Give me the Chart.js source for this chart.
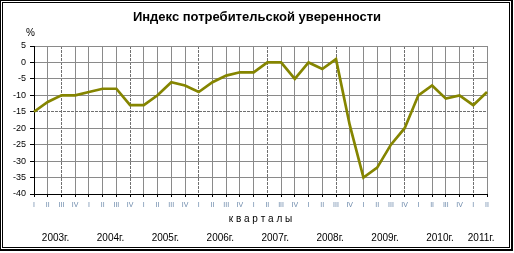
<!DOCTYPE html>
<html>
<head>
<meta charset="utf-8">
<script src="https://cdn.jsdelivr.net/npm/chart.js"></script>
<style>
    html, body { margin: 0; padding: 0; background: #fff; }
    #wrap { width: 514px; height: 253px; }
</style>
</head>
<body>
<div id="wrap"><canvas id="confidence-chart" width="514" height="253"></canvas></div>
<script>
const title = 'Индекс потребительской уверенности';
const unitLabel = '%';
const axisTitle = 'к в а р т а л ы';
const years = ['2003г.', '2004г.', '2005г.', '2006г.', '2007г.', '2008г.', '2009г.', '2010г.', '2011г.'];
const quarterNames = ['I', 'II', 'III', 'IV'];
// 2003 I ... 2011 II
const values = [
    -15, -12, -10, -10,
    -9, -8, -8, -13,
    -13, -10, -6, -7,
    -9, -6, -4, -3,
    -3, 0, 0, -5,
    0, -2, 1, -19,
    -35, -32, -25, -20,
    -10, -7, -11, -10,
    -13, -9
];
const yMin = -40;
const yMax = 5;
const yStep = 5;

const labels = values.map((v, i) => quarterNames[i % 4]);

const fontFamily = '"Liberation Sans", Arial, sans-serif';
const gridColor = '#8a8a8a';

const decorPlugin = {
    id: 'decor',
    afterDraw(chart) {
        const ctx = chart.ctx;
        const area = chart.chartArea;
        const xScale = chart.scales.x;
        ctx.save();

        // title
        ctx.fillStyle = '#000';
        ctx.font = 'bold 13px ' + fontFamily;
        ctx.textAlign = 'center';
        ctx.textBaseline = 'middle';
        ctx.fillText(title, 257, 17);

        // unit
        ctx.font = '10px ' + fontFamily;
        ctx.textAlign = 'left';
        ctx.fillText(unitLabel, 26, 33);

        // axis title
        ctx.textAlign = 'center';
        ctx.fillText(axisTitle, (area.left + area.right) / 2, 219);

        // years under their quarters
        years.forEach((y, i) => {
            const first = i * 4;
            const last = Math.min(first + 3, values.length - 1);
            const x = (xScale.getPixelForValue(first) + xScale.getPixelForValue(last)) / 2;
            ctx.fillText(y, x + 1, 238);
        });

        // double frame
        ctx.fillStyle = '#000';
        ctx.fillRect(0, 0, 513, 1);
        ctx.fillRect(0, 0, 1, 251);
        ctx.fillRect(511, 0, 2, 251);
        ctx.fillRect(0, 249, 513, 2);
        ctx.fillRect(2, 2, 508, 1);
        ctx.fillRect(2, 2, 1, 246);
        ctx.fillRect(509, 2, 1, 246);
        ctx.fillRect(2, 247, 508, 1);

        ctx.restore();
    }
};

new Chart(document.getElementById('confidence-chart').getContext('2d'), {
    type: 'line',
    data: {
        labels: labels,
        datasets: [{
            data: values,
            borderColor: '#858500',
            borderWidth: 2.7,
            pointRadius: 0,
            tension: 0,
            fill: false
        }]
    },
    options: {
        responsive: false,
        animation: false,
        devicePixelRatio: 1,
        layout: { padding: { top: 46, right: 27, left: 0, bottom: 0 } },
        plugins: {
            legend: { display: false },
            title: { display: false },
            tooltip: { enabled: false }
        },
        scales: {
            x: {
                offset: false,
                grid: {
                    color: ctx => (ctx.index % 5 === 2 ? '#707070' : gridColor),
                    tickColor: '#000',
                    tickLength: 3,
                    offset: false
                },
                border: {
                    color: '#000',
                    dash: ctx => (ctx.index !== undefined && ctx.index % 5 === 2 ? [3, 1] : [])
                },
                ticks: {
                    autoSkip: false,
                    maxRotation: 0,
                    padding: 4,
                    color: '#6b88aa',
                    font: { family: fontFamily, size: 7 }
                },
                afterFit(scale) { scale.height = 59; }
            },
            y: {
                min: yMin,
                max: yMax,
                grid: {
                    color: ctx => (ctx.tick && ctx.tick.value === -15 ? '#707070' : gridColor),
                    tickColor: '#000',
                    tickLength: 4
                },
                border: {
                    color: '#000',
                    dash: ctx => (ctx.tick && ctx.tick.value === -15 ? [3, 1] : [])
                },
                ticks: {
                    stepSize: yStep,
                    padding: 4,
                    color: '#000',
                    font: { family: fontFamily, size: 9 }
                },
                afterFit(scale) { scale.width = 34; }
            }
        }
    },
    plugins: [decorPlugin]
});
</script>
</body>
</html>
